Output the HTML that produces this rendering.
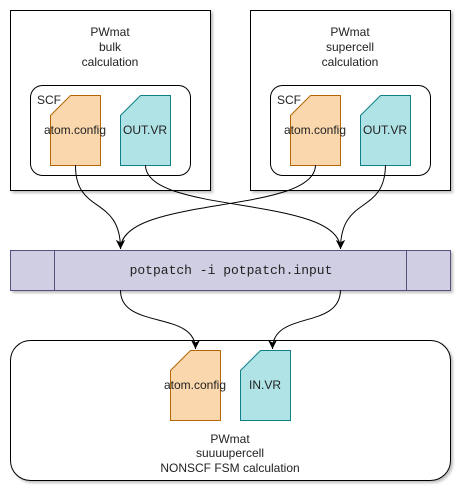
<html><head><style>body{margin:0;background:#fff}svg{font-family:"Liberation Sans",sans-serif}</style></head><body>
<svg width="467" height="497" viewBox="0 0 467 497" xmlns="http://www.w3.org/2000/svg">
<defs><filter id="s"><feDropShadow dx="2" dy="2" stdDeviation="1.2" flood-opacity="0.25"/></filter>
<marker id="a" markerWidth="10" markerHeight="10" refX="9" refY="5" orient="auto" markerUnits="userSpaceOnUse"><path d="M0,0.5 L9,5 L0,9.5 L2.5,5 Z"/></marker></defs>
<g filter="url(#s)" stroke="#000" stroke-width="1">
<rect x="10.5" y="10.5" width="200" height="180" fill="#fff"/>
<rect x="250.5" y="10.5" width="200" height="180" fill="#fff"/>
<rect x="10.5" y="250.5" width="440" height="40" fill="#d0cee2" stroke="#56517e"/>
<rect x="10.5" y="340.5" width="440" height="140" rx="20" fill="#fff"/>
</g>
<line x1="54.5" y1="250" x2="54.5" y2="290" stroke="#56517e"/>
<line x1="406.5" y1="250" x2="406.5" y2="290" stroke="#56517e"/>
<rect x="30.5" y="85.5" width="160" height="90" rx="12" fill="#fff" stroke="#000"/>
<rect x="270.5" y="85.5" width="160" height="90" rx="12" fill="#fff" stroke="#000"/>
<g stroke-width="1">
<path d="M70.5,95.5H100.5V165.5H50.5V115.5Z" fill="#fad7ac" stroke="#b46504"/>
<path d="M140.5,95.5H170.5V165.5H120.5V115.5Z" fill="#b0e3e6" stroke="#0e8088"/>
<path d="M310.5,95.5H340.5V165.5H290.5V115.5Z" fill="#fad7ac" stroke="#b46504"/>
<path d="M380.5,95.5H410.5V165.5H360.5V115.5Z" fill="#b0e3e6" stroke="#0e8088"/>
<path d="M190.5,350.5H220.5V420.5H170.5V370.5Z" fill="#fad7ac" stroke="#b46504"/>
<path d="M260.5,350.5H290.5V420.5H240.5V370.5Z" fill="#b0e3e6" stroke="#0e8088"/>
</g>
<g fill="none" stroke="#000" stroke-width="1">
<path d="M75.5,165 C75,215 120.5,195 120.5,249" marker-end="url(#a)"/>
<path d="M145.5,165 C145,215 340.5,195 340.5,249" marker-end="url(#a)"/>
<path d="M315.5,165 C315,215 120.5,195 120.5,249" marker-end="url(#a)"/>
<path d="M385.5,165 C385,215 340.5,195 340.5,249" marker-end="url(#a)"/>
<path d="M120.5,290 C120,330 195.5,310 195.5,349" marker-end="url(#a)"/>
<path d="M340.5,290 C340,330 272.5,310 272.5,349" marker-end="url(#a)"/>
</g>
<g font-size="12" fill="#222" text-anchor="middle">
<text x="110" y="36">PWmat</text><text x="110" y="51">bulk</text><text x="110" y="66">calculation</text>
<text x="350" y="36">PWmat</text><text x="350" y="51">supercell</text><text x="350" y="66">calculation</text>
<text x="75" y="134">atom.config</text><text x="145" y="134">OUT.VR</text>
<text x="315" y="134">atom.config</text><text x="385" y="134">OUT.VR</text>
<text x="195" y="389">atom.config</text><text x="265" y="389">IN.VR</text>
<text x="230" y="443">PWmat</text><text x="230" y="457">suuuupercell</text><text x="230" y="472">NONSCF FSM calculation</text>
<text x="231" y="274" font-size="13" font-family="Liberation Mono,monospace">potpatch -i potpatch.input</text>
</g>
<g font-size="12" fill="#222"><text x="37" y="104">SCF</text><text x="277" y="104">SCF</text></g>
</svg></body></html>
